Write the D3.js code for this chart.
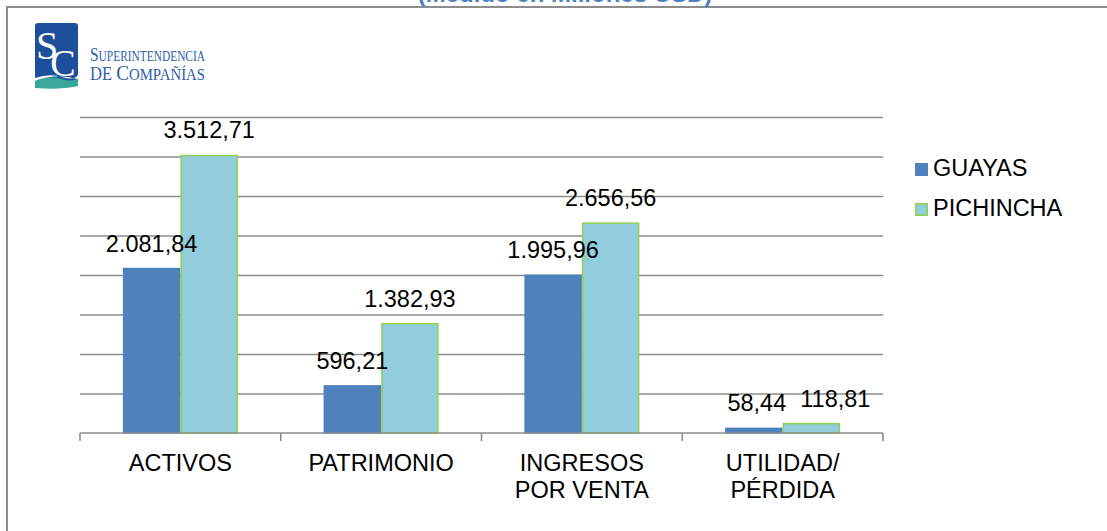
<!DOCTYPE html>
<html>
<head>
<meta charset="utf-8">
<script src="https://cdn.jsdelivr.net/npm/d3@7"></script>
<style>
  body { margin: 0; background: #fff; }
  svg { display: block; font-family: "Liberation Sans", Arial, sans-serif; }
</style>
</head>
<body>
<script>
// Data (millones USD)
const categories = ["ACTIVOS", "PATRIMONIO", "INGRESOS\nPOR VENTA", "UTILIDAD/\nPÉRDIDA"];
const seriesNames = ["GUAYAS", "PICHINCHA"];
const guayas = [2081.84, 596.21, 1995.96, 58.44];
const pichincha = [3512.71, 1382.93, 2656.56, 118.81];
const gridValues = [500, 1000, 1500, 2000, 2500, 3000, 3500, 4000];

const width = 1107;
const height = 531;
const margin = { left: 80, right: 224, top: 117, bottom: 98 };
const colors = { GUAYAS: "#4f81bd", PICHINCHA: "#92cddc" };
const strokes = { GUAYAS: "#4f81bd", PICHINCHA: "#92d050" };

const es = d3.formatLocale({ decimal: ",", thousands: ".", grouping: [3], currency: ["$", ""] });
const fmt = es.format(",.2f");

const rows = categories.map((c, i) => ({ cat: c, GUAYAS: guayas[i], PICHINCHA: pichincha[i] }));

const svg = d3.select("body").append("svg")
  .attr("width", width)
  .attr("height", height);

// outer frame (left + top edges, the rest falls off the crop)
svg.append("path")
  .attr("d", `M7,${height + 5} L7,7 L${width + 5},7`)
  .attr("fill", "none")
  .attr("stroke", "#8c8c8c")
  .attr("stroke-width", 2);

// clipped title at very top
svg.append("text")
  .attr("x", 565)
  .attr("y", 2)
  .attr("text-anchor", "middle")
  .attr("fill", "#4f81bd")
  .style("font-weight", "bold")
  .style("font-size", "24px")
  .text("(Medido en Millones USD)");

// logo
const logo = svg.append("g");
logo.append("rect")
  .attr("x", 35).attr("y", 23)
  .attr("width", 43).attr("height", 62)
  .attr("rx", 3)
  .attr("fill", "#1d4f9a");
logo.append("path")
  .attr("d", "M35,80 Q50,75 62,79 T78,77 L78,86 Q60,90 35,88 Z")
  .attr("fill", "#3aa79a");
logo.append("path")
  .attr("d", "M35,78 Q50,73 62,77 T78,75 L78,79 Q62,75 50,77 T35,81 Z")
  .attr("fill", "#ffffff");
logo.append("text")
  .attr("x", 47).attr("y", 59)
  .attr("text-anchor", "middle")
  .attr("fill", "#ffffff")
  .style("font-family", "'Liberation Serif', 'DejaVu Serif', serif")
  .style("font-size", "40px")
  .text("S");
logo.append("text")
  .attr("x", 63).attr("y", 76)
  .attr("text-anchor", "middle")
  .attr("fill", "#ffffff")
  .style("font-family", "'Liberation Serif', 'DejaVu Serif', serif")
  .style("font-size", "38px")
  .text("C");

// logo wordmark, squeezed to the width seen in the picture
const logoFont = "'Liberation Serif', 'DejaVu Serif', serif";
const lt1 = svg.append("text")
  .attr("x", 90).attr("y", 61)
  .attr("fill", "#2e5ea6")
  .attr("textLength", 115)
  .attr("lengthAdjust", "spacingAndGlyphs")
  .style("font-family", logoFont);
lt1.append("tspan").style("font-size", "19px").text("S");
lt1.append("tspan").style("font-size", "14px").text("UPERINTENDENCIA");
const lt2 = svg.append("text")
  .attr("x", 90).attr("y", 80)
  .attr("fill", "#2e5ea6")
  .attr("textLength", 115)
  .attr("lengthAdjust", "spacingAndGlyphs")
  .style("font-family", logoFont);
lt2.append("tspan").style("font-size", "19px").text("DE ");
lt2.append("tspan").style("font-size", "22px").text("C");
lt2.append("tspan").style("font-size", "17px").text("OMPAÑÍAS");

// scales
const x0 = d3.scaleBand()
  .domain(categories)
  .range([margin.left, width - margin.right])
  .padding(0);

const x1 = d3.scaleBand()
  .domain(seriesNames)
  .range([0, x0.bandwidth()])
  .paddingInner(0)
  .paddingOuter(0.745);

const y = d3.scaleLinear()
  .domain([0, 4000])
  .range([height - margin.bottom, margin.top]);

// gridlines
svg.append("g")
  .attr("transform", `translate(${margin.left},0)`)
  .call(d3.axisLeft(y).tickValues(gridValues).tickSize(-(width - margin.left - margin.right)).tickFormat(""))
  .call((g) => g.select(".domain").remove())
  .call((g) => g.selectAll(".tick line").attr("stroke", "#8c8c8c").attr("stroke-width", 1.6));

// bars
const groups = svg.append("g")
  .selectAll("g")
  .data(rows)
  .enter()
  .append("g")
  .attr("transform", (d) => `translate(${x0(d.cat)},0)`);

groups.selectAll("rect")
  .data((d) => seriesNames.map((s) => ({ key: s, value: d[s] })))
  .enter()
  .append("rect")
  .attr("x", (d) => x1(d.key) + 0.75)
  .attr("y", (d) => y(d.value))
  .attr("width", x1.bandwidth() - 1.5)
  .attr("height", (d) => y(0) - y(d.value))
  .attr("fill", (d) => colors[d.key])
  .attr("stroke", (d) => strokes[d.key])
  .attr("stroke-width", 1.5);

// baseline + category ticks
const axisG = svg.append("g");
axisG.append("line")
  .attr("x1", margin.left).attr("x2", width - margin.right)
  .attr("y1", y(0)).attr("y2", y(0))
  .attr("stroke", "#8c8c8c").attr("stroke-width", 1.6);
const tickXs = categories.map((c) => x0(c)).concat([x0.range()[1]]);
axisG.selectAll(".tk")
  .data(tickXs)
  .enter()
  .append("line")
  .attr("x1", (d) => d).attr("x2", (d) => d)
  .attr("y1", y(0)).attr("y2", y(0) + 8)
  .attr("stroke", "#8c8c8c").attr("stroke-width", 1.6);

// value labels
groups.each(function () {
  const labels = d3.select(this).selectAll("text.val")
    .data((d) => seriesNames.map((s) => ({ key: s, value: d[s] })))
    .enter()
    .append("text")
    .attr("class", "val")
    .attr("x", (d) => x1(d.key) + x1.bandwidth() / 2)
    .attr("y", (d) => y(d.value) - 17)
    .attr("text-anchor", "middle")
    .attr("fill", "#000")
    .style("font-size", "23.5px")
    .text((d) => fmt(d.value));
  // push the right label aside when two labels would touch (like Excel does)
  const nodes = labels.nodes();
  const a = nodes[0].getBBox();
  const b = nodes[1].getBBox();
  const overlapY = !(a.y > b.y + b.height || b.y > a.y + a.height);
  const gap = b.x - (a.x + a.width);
  if (overlapY && gap < 14) {
    d3.select(nodes[0]).attr("x", +d3.select(nodes[0]).attr("x") + 3);
    d3.select(nodes[1]).attr("x", +d3.select(nodes[1]).attr("x") + (14 - gap) + 3);
  }
});

// category labels
const catText = svg.append("g")
  .selectAll("text")
  .data(categories)
  .enter()
  .append("text")
  .attr("x", (d) => x0(d) + x0.bandwidth() / 2)
  .attr("y", 471)
  .attr("text-anchor", "middle")
  .attr("fill", "#000")
  .style("font-size", "23.5px");
catText.selectAll("tspan")
  .data((d) => d.split("\n"))
  .enter()
  .append("tspan")
  .attr("x", function () { return d3.select(this.parentNode).attr("x"); })
  .attr("dy", (d, i) => (i === 0 ? 0 : 27))
  .text((d) => d);

// legend
const legend = svg.append("g")
  .selectAll("g")
  .data(seriesNames)
  .enter()
  .append("g")
  .attr("transform", (d, i) => `translate(915,${163 + i * 40})`);
legend.append("rect")
  .attr("x", 0.75).attr("y", 0.75)
  .attr("width", 11.5).attr("height", 11.5)
  .attr("fill", (d) => colors[d])
  .attr("stroke", (d) => strokes[d])
  .attr("stroke-width", 1.5);
legend.append("text")
  .attr("x", 18)
  .attr("y", 13)
  .attr("fill", "#000")
  .style("font-size", "23.5px")
  .text((d) => d);
</script>
</body>
</html>
